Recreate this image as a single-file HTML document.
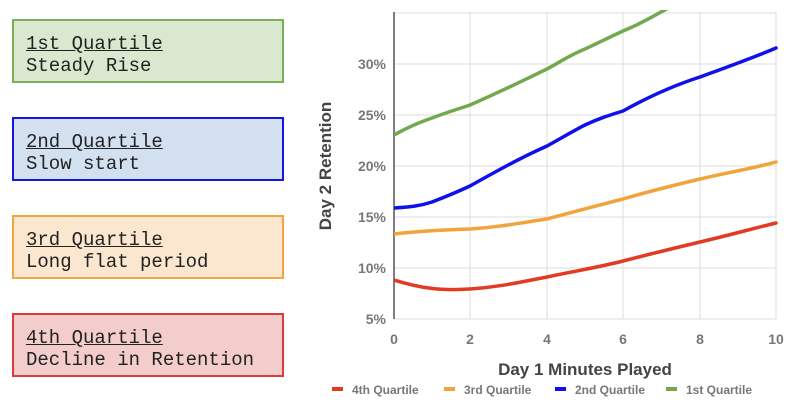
<!DOCTYPE html>
<html><head><style>
body{margin:0;width:800px;height:416px;background:#fff;position:relative;overflow:hidden;font-family:"Liberation Sans",sans-serif}
.b{position:absolute;left:12px;width:272px;height:64px;border:2px solid;font-family:"Liberation Mono",monospace;font-size:19px;color:#222;line-height:22px;padding:0 0 0 12px;box-sizing:border-box;padding-top:12px}
.b u{text-decoration:underline}
</style></head><body>
<div class="b" style="top:19px;background:#d9e8cf;border-color:#7daf5a"><u>1st Quartile</u><br>Steady Rise</div>
<div class="b" style="top:117px;background:#d3e0f0;border-color:#1515e6"><u>2nd Quartile</u><br>Slow start</div>
<div class="b" style="top:215px;background:#fbe6cf;border-color:#f0a640"><u>3rd Quartile</u><br>Long flat period</div>
<div class="b" style="top:313px;background:#f3cccc;border-color:#dd3b3b"><u>4th Quartile</u><br>Decline in Retention</div>
<svg width="800" height="416" style="position:absolute;left:0;top:0">
<g stroke="#ddd" stroke-width="1">
<line x1="394" x2="776" y1="13" y2="13"/><line x1="394" x2="776" y1="64" y2="64"/><line x1="394" x2="776" y1="115" y2="115"/><line x1="394" x2="776" y1="166" y2="166"/><line x1="394" x2="776" y1="217" y2="217"/><line x1="394" x2="776" y1="268" y2="268"/><line x1="394" x2="776" y1="319" y2="319"/>
<line x1="470" x2="470" y1="12" y2="319"/><line x1="547" x2="547" y1="12" y2="319"/><line x1="623" x2="623" y1="12" y2="319"/><line x1="700" x2="700" y1="12" y2="319"/><line x1="776" x2="776" y1="12" y2="319"/>
</g>
<line x1="394" x2="394" y1="12" y2="319" stroke="#555" stroke-width="1.5"/>
<g font-size="14" font-weight="bold" fill="#777" text-anchor="end">
<text x="386" y="69">30%</text><text x="386" y="120">25%</text><text x="386" y="171">20%</text><text x="386" y="222">15%</text><text x="386" y="273">10%</text><text x="386" y="324">5%</text></g>
<g font-size="14" font-weight="bold" fill="#777" text-anchor="middle">
<text x="394" y="344">0</text><text x="470" y="344">2</text><text x="547" y="344">4</text><text x="623" y="344">6</text><text x="700" y="344">8</text><text x="776" y="344">10</text></g>
<text x="585" y="375" font-size="17" font-weight="bold" fill="#444" text-anchor="middle">Day 1 Minutes Played</text>
<text transform="translate(331,166) rotate(-90)" font-size="17" font-weight="bold" fill="#444" text-anchor="middle">Day 2 Retention</text>
<g fill="none" stroke-width="3.5" stroke-linecap="round" clip-path="url(#c)">
<clipPath id="c"><rect x="394" y="10" width="390" height="320"/></clipPath>
<path stroke="#e33a22" d="M394,280 C420,288 440,291 470,289 C500,287 520,282 547,277 C580,270 600,267 623,261 C650,254 675,248 700,242 C730,235 755,228 776,223"/>
<path stroke="#f2a33a" d="M394,234 C420,231 440,230 470,229 C500,227 520,223 547,219 C580,210 600,205 623,199 C650,191 675,185 700,179 C730,172 755,168 776,162"/>
<path stroke="#1010e8" d="M394,208 C410,207 420,206 432,202 C445,197 455,193 470,186 C495,172 520,158 547,146 C565,136 575,130 585,125 C600,118 610,115 623,111 C650,96 675,85 700,77 C730,66 755,57 776,48"/>
<path stroke="#72a94f" d="M394,135 C410,126 420,122 432,118 C445,113 455,110 470,105 C500,92 520,82 547,69 C560,62 570,55 585,49 C600,42 610,37 623,31 C640,24 650,18 661,12 L680,2"/>
</g>
<g font-size="12" font-weight="bold" fill="#777">
<rect x="332" y="387" width="11" height="4" fill="#e33a22"/><text x="352" y="394">4th Quartile</text>
<rect x="444" y="387" width="11" height="4" fill="#f2a33a"/><text x="464" y="394">3rd Quartile</text>
<rect x="555" y="387" width="11" height="4" fill="#1010e8"/><text x="575" y="394">2nd Quartile</text>
<rect x="666" y="387" width="11" height="4" fill="#72a94f"/><text x="686" y="394">1st Quartile</text>
</g>
</svg>
</body></html>
